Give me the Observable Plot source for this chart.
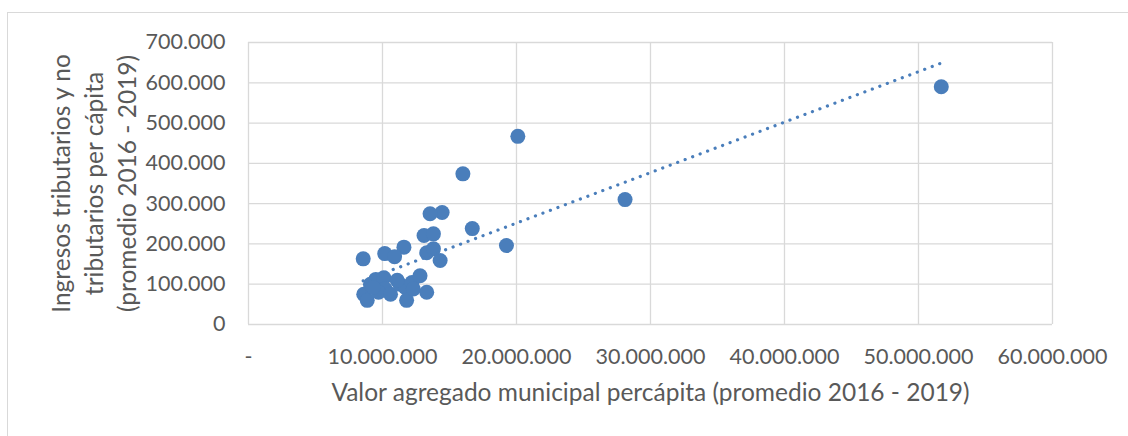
<!DOCTYPE html>
<html><head><meta charset="utf-8">
<script src="https://cdn.jsdelivr.net/npm/d3@7"></script>
<script src="https://cdn.jsdelivr.net/npm/@observablehq/plot@0.6"></script>
<style>
html,body{margin:0;padding:0;background:#fff;overflow:hidden}
#wrap{position:relative;width:1128px;height:436px}
#border{position:absolute;left:7px;top:12px;width:1200px;height:500px;border:1px solid #d9d9d9;box-sizing:border-box;pointer-events:none}
svg{display:block}
</style></head><body><div id="wrap"><div id="border"></div></div>
<script>
// Valor agregado municipal per cápita (x) and ingresos per cápita (y)
const valorAgregado = [
  51700000, 28100000, 20100000, 19250000, 16000000, 16700000, 14450000, 13550000,
  13100000, 13800000, 13300000, 13800000, 14300000, 11600000, 10170000, 10900000, 8560000,
  8600000, 8860000, 9100000, 9500000, 10100000, 10200000, 9700000, 10600000,
  11300000, 11700000, 11800000, 12200000, 12300000, 12800000, 13300000, 11100000, 9300000
];
const ingresos = [
  590000, 310000, 467000, 196000, 374000, 238000, 278000, 275000,
  221000, 225000, 178000, 188000, 159000, 192000, 176000, 168000, 163000,
  75000, 60000, 100000, 112000, 116000, 88000, 80000, 75000,
  100000, 92000, 60000, 104000, 88000, 121000, 80000, 110000, 92000
];
const xTicks = [0, 10000000, 20000000, 30000000, 40000000, 50000000, 60000000];
const yTicks = [0, 100000, 200000, 300000, 400000, 500000, 600000, 700000];
const xTitle = "Valor agregado municipal percápita (promedio 2016 - 2019)";
const yTitle = "Ingresos tributarios y no\ntributarios per cápita\n(promedio 2016 - 2019)";

const data = valorAgregado.map((x, i) => ({x, y: ingresos[i]}));
const fmt = d3.formatLocale({decimal: ",", thousands: ".", grouping: [3], currency: ["$", ""]}).format(",.0f");
const blue = "#4a7ebb";
const textColor = "#595959";
const font = "Lato, 'Open Sans', sans-serif";

const chart = Plot.plot({
  width: 1128,
  height: 436,
  marginLeft: 248,
  marginRight: 76,
  marginTop: 42,
  marginBottom: 112,
  style: {fontFamily: font, fontSize: "21.5px", color: textColor, background: "transparent"},
  x: {domain: [0, 60000000]},
  y: {domain: [0, 700000]},
  marks: [
    Plot.gridX(xTicks, {stroke: "#d9d9d9", strokeOpacity: 1, strokeWidth: 1.3}),
    Plot.gridY(yTicks, {stroke: "#d9d9d9", strokeOpacity: 1, strokeWidth: 1.3}),
    Plot.axisX(xTicks, {tickSize: 0, tickPadding: 24, tickFormat: d => d === 0 ? "-" : fmt(d), label: null, fill: textColor}),
    Plot.axisY(yTicks, {tickSize: 0, tickPadding: 23, tickFormat: d => fmt(d), label: null, fill: textColor}),
    Plot.dot(data, {x: "x", y: "y", r: 7.5, fill: blue, stroke: null}),
    Plot.linearRegressionY(data, {x: "x", y: "y", ci: 0, stroke: blue, strokeWidth: 3.2, strokeDasharray: "0.1 7.9", strokeLinecap: "round"}),
    Plot.text([xTitle], {frameAnchor: "bottom", textAnchor: "middle", dy: 69, lineAnchor: "middle", fill: textColor, fontSize: 24.5}),
    Plot.text([yTitle], {frameAnchor: "left", textAnchor: "middle", dx: -156, rotate: -90, lineAnchor: "middle", lineHeight: 1.35, fill: textColor, fontSize: 24.5})
  ]
});
document.getElementById("wrap").appendChild(chart);
</script>
</body></html>
